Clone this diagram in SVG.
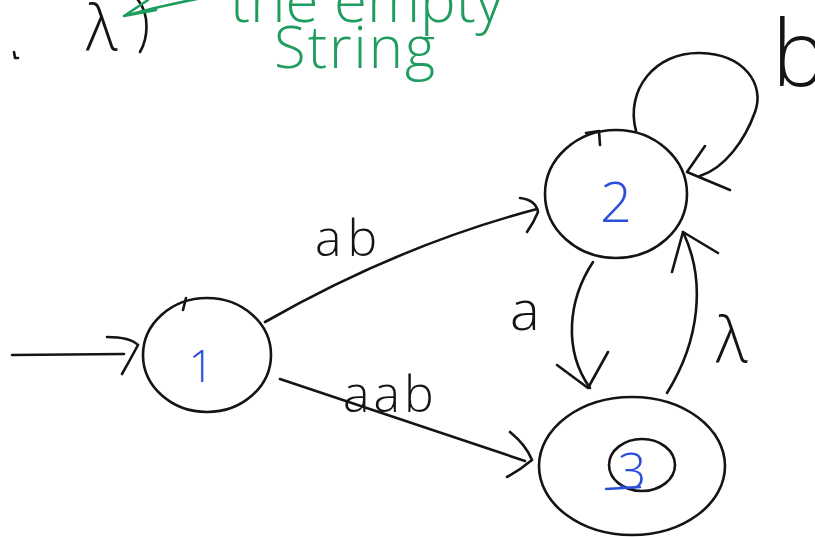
<svg xmlns="http://www.w3.org/2000/svg" width="815" height="537" viewBox="0 0 815 537">
  <style>
    .pen { fill: none; stroke: #141414; stroke-width: 2.6; stroke-linecap: round; stroke-linejoin: round; }
    .ink { fill: #141414; font-family: "Open Sans", "Liberation Sans", sans-serif; font-weight: 300; }
    .blue { fill: #2b4fd8; font-family: "Open Sans", "Liberation Sans", sans-serif; font-weight: 300; }
    .green { fill: #1f9d5f; font-family: "Open Sans", "Liberation Sans", sans-serif; font-weight: 300; }
    .gpen { fill: none; stroke: #1f9d5f; stroke-width: 2.6; stroke-linecap: round; stroke-linejoin: round; }
  </style>
  <rect width="815" height="537" fill="#ffffff"/>

  <!-- note: lambda is the empty string -->
  <g id="note">
    <text class="ink" x="86" y="50" font-size="62">λ</text>
    <path class="pen" d="M138,0 C150,15 148,38 140,52"/>
    <path class="gpen" d="M148,0 L124,16 L156,10 M124,16 C160,6 200,-2 225,-6"/>
    <text class="green" x="230" y="22" font-size="60">the empty</text>
    <text class="green" x="274" y="68" font-size="58" letter-spacing="2">String</text>
    <path class="pen" d="M14,52 L15,58 L18,58" stroke-width="2"/>
  </g>

  <!-- transitions -->
  <g id="connectors">
    <!-- start arrow -->
    <path class="pen" d="M12,355 L124,354"/>
    <path class="pen" d="M107,337 Q130,337 138,345 Q130,360 122,374"/>
    <!-- 1 -> 2 : ab -->
    <path class="pen" d="M265,322 Q400,245 537,209"/>
    <path class="pen" d="M520,198 Q536,200 538,212 Q534,222 527,232"/>
    <!-- 1 -> 3 : aab -->
    <path class="pen" d="M280,379 L525,461"/>
    <path class="pen" d="M510,432 Q526,445 532,460 Q520,470 507,477"/>
    <!-- 2 -> 2 : b -->
    <path class="pen" d="M636,131 C625,90 655,52 700,53 C745,54 765,85 755,112 C745,140 725,168 700,176"/>
    <path class="pen" d="M705,146 L687,172 L730,190"/>
    <!-- 2 -> 3 : a -->
    <path class="pen" d="M593,262 C568,300 563,350 590,388"/>
    <path class="pen" d="M557,365 L588,388 L608,352"/>
    <!-- 3 -> 2 : lambda -->
    <path class="pen" d="M667,393 C700,340 706,280 683,232"/>
    <path class="pen" d="M672,272 L683,232 L718,253"/>
  </g>

  <g id="edge-labels">
    <text class="ink" x="315" y="256" font-size="50" letter-spacing="6">ab</text>
    <text class="ink" x="343" y="412" font-size="50" letter-spacing="4">aab</text>
    <text class="ink" x="510" y="330" font-size="56">a</text>
    <text class="ink" x="716" y="362" font-size="62">λ</text>
    <text class="ink" x="772" y="86" font-size="92">b</text>
  </g>

  <g id="node1">
    <ellipse class="pen" cx="207" cy="355" rx="64" ry="57"/>
    <path class="pen" d="M183,310 L186,298" stroke-width="2"/>
    <text class="blue" x="201" y="382" font-size="44" text-anchor="middle">1</text>
  </g>

  <g id="node2">
    <ellipse class="pen" cx="616" cy="194" rx="71" ry="64"/>
    <path class="pen" d="M586,133 L599,131 L600,145" stroke-width="2"/>
    <text class="blue" x="616" y="222" font-size="56" text-anchor="middle">2</text>
  </g>

  <g id="node3">
    <ellipse class="pen" cx="632" cy="466" rx="93" ry="69"/>
    <ellipse class="pen" cx="642" cy="465" rx="33" ry="26"/>
    <text class="blue" x="632" y="489" font-size="50" text-anchor="middle">3</text>
    <path d="M606,489 L640,487" stroke="#2b4fd8" stroke-width="2.4" stroke-linecap="round" fill="none"/>
  </g>
</svg>
